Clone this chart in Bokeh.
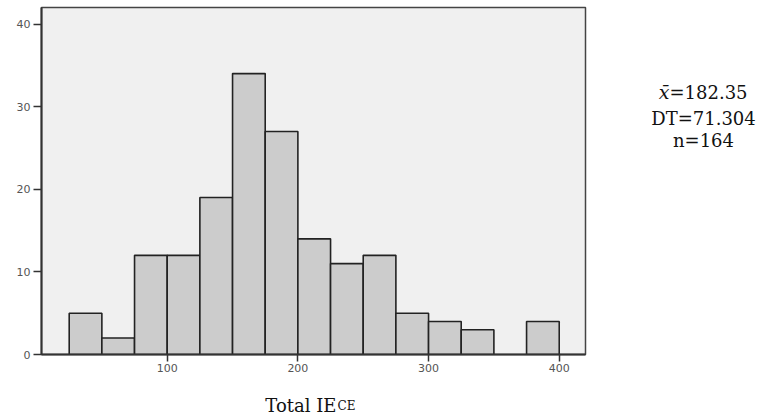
from bokeh.plotting import figure
from bokeh.models import FixedTicker, Range1d
from bokeh.layouts import row, column
from bokeh.core.properties import value
from bokeh.embed import file_html
from bokeh.resources import INLINE

# ---- data ----
bin_left = [25, 50, 75, 100, 125, 150, 175, 200, 225, 250, 275, 300, 325, 350, 375]
bin_right = [50, 75, 100, 125, 150, 175, 200, 225, 250, 275, 300, 325, 350, 375, 400]
counts = [5, 2, 12, 12, 19, 34, 27, 14, 11, 12, 5, 4, 3, 0, 4]
x_ticks = [100, 200, 300, 400]
y_ticks = [0, 10, 20, 30, 40]
mean_text = "182.35"
sd_text = "71.304"
n_total = sum(counts)
x_title = "Total IE"
x_title_sub = "CE"

L = [l for l, c in zip(bin_left, counts) if c > 0]
R = [r for r, c in zip(bin_right, counts) if c > 0]
C = [c for c in counts if c > 0]

MAIN_W, MAIN_H = 587, 376

p = figure(width=MAIN_W, height=MAIN_H, output_backend="svg", toolbar_location=None,
           x_range=(3.8, 420.1), y_range=(0, 42.0),
           min_border_left=41, min_border_right=2, min_border_top=7, min_border_bottom=22)
p.background_fill_color = "#f0f0f0"
p.border_fill_color = "white"
p.outline_line_color = "#444444"
p.outline_line_width = 1.5
p.grid.visible = False

p.quad(left=L, right=R, bottom=0, top=C, fill_color="#cccccc",
       line_color="#222222", line_width=1.6)

for ax, ticks in ((p.xaxis[0], x_ticks), (p.yaxis[0], y_ticks)):
    ax.ticker = FixedTicker(ticks=ticks)
    ax.minor_tick_line_color = None
    ax.major_tick_in = 0
    ax.major_tick_out = 7
    ax.major_tick_line_color = "#333333"
    ax.major_tick_line_width = 1.5
    ax.axis_line_color = "#333333"
    ax.axis_line_width = 2
    ax.major_label_text_font = "DejaVu Sans"
    ax.major_label_text_font_size = "11px"
    ax.major_label_text_color = "#555555"
p.yaxis.major_tick_out = 8
p.xaxis.major_label_standoff = 2
p.yaxis.major_label_standoff = 3


def blank(w, h):
    f = figure(width=w, height=h, output_backend="svg", toolbar_location=None,
               x_range=Range1d(0, w), y_range=Range1d(h, 0),
               x_axis_type=None, y_axis_type=None,
               min_border=0, min_border_left=0, min_border_right=0,
               min_border_top=0, min_border_bottom=0)
    f.outline_line_color = None
    f.grid.visible = False
    f.background_fill_color = "white"
    f.border_fill_color = "white"
    return f


serif = "DejaVu Serif"
ink = "#111111"

# stats panel to the right of the chart
s = blank(760 - MAIN_W, MAIN_H)
cx = 703 - MAIN_W
s.text(x=[cx - 34], y=[92], text=["x\u0304"], text_font=value(serif),
       text_font_style=value("italic"), text_font_size=value("19px"),
       text_align=value("right"), text_baseline=value("alphabetic"), text_color=ink)
s.text(x=[cx - 34], y=[92], text=["=" + mean_text], text_font=value(serif),
       text_font_size=value("18px"), text_align=value("left"),
       text_baseline=value("alphabetic"), text_color=ink)
s.text(x=[cx], y=[120], text=["DT=" + sd_text], text_font=value(serif),
       text_font_size=value("18px"), text_align=value("center"),
       text_baseline=value("alphabetic"), text_color=ink)
s.text(x=[cx], y=[144], text=["n=" + str(n_total)], text_font=value(serif),
       text_font_size=value("18px"), text_align=value("center"),
       text_baseline=value("alphabetic"), text_color=ink)

# x title panel below
BH = 418 - MAIN_H
b = blank(760, BH)
b.text(x=[336], y=[405 - MAIN_H], text=[x_title], text_font=value(serif),
       text_font_size=value("18px"), text_align=value("right"),
       text_baseline=value("alphabetic"), text_color=ink)
b.text(x=[337], y=[405 - MAIN_H], text=[x_title_sub], text_font=value(serif),
       text_font_size=value("12px"), text_align=value("left"),
       text_baseline=value("alphabetic"), text_color=ink)

layout = column(row(p, s, spacing=0), b, spacing=0)
open("out.html", "w").write(file_html(layout, INLINE))
